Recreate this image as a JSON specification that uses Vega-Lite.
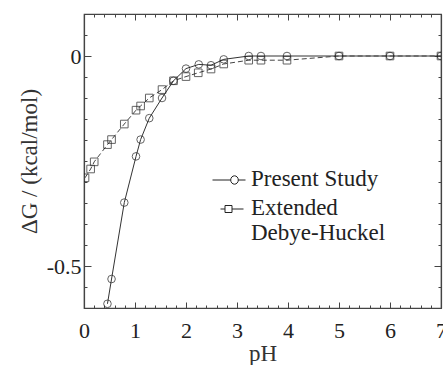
{
  "$schema": "https://vega.github.io/schema/vega-lite/v6.json",
  "width": 357,
  "height": 294,
  "autosize": {"type": "none"},
  "padding": {"left": 84, "top": 14, "right": 2, "bottom": 57},
  "background": "white",
  "config": {
    "font": "Liberation Serif",
    "view": {"stroke": "#444", "strokeWidth": 1.2},
    "axis": {
      "grid": false,
      "labelFont": "Liberation Serif",
      "titleFont": "Liberation Serif",
      "labelFontSize": 22,
      "titleFontSize": 23,
      "titleFontWeight": "normal",
      "labelColor": "#222",
      "titleColor": "#333",
      "tickColor": "#444",
      "domainColor": "#444",
      "domainWidth": 1.2
    },
    "legend": {"labelFont": "Liberation Serif"}
  },
  "data": {
    "values": [
      {"series": "Present Study", "pH": 0.46, "dG": -0.590},
      {"series": "Present Study", "pH": 0.54, "dG": -0.531},
      {"series": "Present Study", "pH": 0.79, "dG": -0.349},
      {"series": "Present Study", "pH": 1.02, "dG": -0.239},
      {"series": "Present Study", "pH": 1.11, "dG": -0.199},
      {"series": "Present Study", "pH": 1.28, "dG": -0.148},
      {"series": "Present Study", "pH": 1.53, "dG": -0.100},
      {"series": "Present Study", "pH": 1.755, "dG": -0.059},
      {"series": "Present Study", "pH": 2.0, "dG": -0.030},
      {"series": "Present Study", "pH": 2.25, "dG": -0.020},
      {"series": "Present Study", "pH": 2.49, "dG": -0.022},
      {"series": "Present Study", "pH": 2.74, "dG": -0.008},
      {"series": "Present Study", "pH": 3.23, "dG": 0.0},
      {"series": "Present Study", "pH": 3.47, "dG": 0.0},
      {"series": "Present Study", "pH": 3.98, "dG": 0.0},
      {"series": "Present Study", "pH": 5.0, "dG": 0.0},
      {"series": "Present Study", "pH": 6.0, "dG": 0.0},
      {"series": "Present Study", "pH": 7.0, "dG": 0.0},
      {"series": "Extended Debye-Huckel", "pH": 0.02, "dG": -0.290},
      {"series": "Extended Debye-Huckel", "pH": 0.13, "dG": -0.269},
      {"series": "Extended Debye-Huckel", "pH": 0.20, "dG": -0.252},
      {"series": "Extended Debye-Huckel", "pH": 0.46, "dG": -0.211},
      {"series": "Extended Debye-Huckel", "pH": 0.54, "dG": -0.199},
      {"series": "Extended Debye-Huckel", "pH": 0.79, "dG": -0.162},
      {"series": "Extended Debye-Huckel", "pH": 1.02, "dG": -0.129},
      {"series": "Extended Debye-Huckel", "pH": 1.11, "dG": -0.119},
      {"series": "Extended Debye-Huckel", "pH": 1.28, "dG": -0.100},
      {"series": "Extended Debye-Huckel", "pH": 1.53, "dG": -0.080},
      {"series": "Extended Debye-Huckel", "pH": 1.755, "dG": -0.059},
      {"series": "Extended Debye-Huckel", "pH": 2.0, "dG": -0.049},
      {"series": "Extended Debye-Huckel", "pH": 2.24, "dG": -0.040},
      {"series": "Extended Debye-Huckel", "pH": 2.49, "dG": -0.031},
      {"series": "Extended Debye-Huckel", "pH": 2.74, "dG": -0.019},
      {"series": "Extended Debye-Huckel", "pH": 3.23, "dG": -0.010},
      {"series": "Extended Debye-Huckel", "pH": 3.47, "dG": -0.010},
      {"series": "Extended Debye-Huckel", "pH": 3.98, "dG": -0.010},
      {"series": "Extended Debye-Huckel", "pH": 5.0, "dG": 0.0},
      {"series": "Extended Debye-Huckel", "pH": 6.0, "dG": 0.0},
      {"series": "Extended Debye-Huckel", "pH": 7.0, "dG": 0.0}
    ]
  },
  "layer": [
    {
      "transform": [{"filter": "datum.series == 'Present Study'"}],
      "mark": {"type": "line", "color": "#333", "strokeWidth": 1, "clip": true},
      "encoding": {
        "x": {"field": "pH", "type": "quantitative", "scale": {"domain": [0, 7], "nice": false},
          "axis": {"orient": "bottom", "values": [0, 1, 2, 3, 4, 5, 6, 7], "tickSize": -6, "labelPadding": 18, "title": "pH", "titlePadding": 1, "labelFlush": false, "labelOverlap": false}},
        "y": {"field": "dG", "type": "quantitative", "scale": {"domain": [-0.6, 0.1], "nice": false, "zero": false},
          "axis": {"orient": "left", "values": [0, -0.5], "tickSize": -7, "labelPadding": 10, "labelExpr": "datum.value + ''", "title": "ΔG / (kcal/mol)", "titlePadding": 5}}
      }
    },
    {
      "transform": [{"filter": "datum.series == 'Extended Debye-Huckel'"}],
      "mark": {"type": "line", "color": "#444", "strokeWidth": 1, "strokeDash": [5, 3], "clip": true},
      "encoding": {
        "x": {"field": "pH", "type": "quantitative", "scale": {"domain": [0, 7], "nice": false},
          "axis": {"orient": "bottom", "values": [0.2, 0.4, 0.6, 0.8, 1.2, 1.4, 1.6, 1.8, 2.2, 2.4, 2.6, 2.8, 3.2, 3.4, 3.6, 3.8, 4.2, 4.4, 4.6, 4.8, 5.2, 5.4, 5.6, 5.8, 6.2, 6.4, 6.6, 6.8], "tickSize": -3, "labels": false, "domain": false, "title": null}},
        "y": {"field": "dG", "type": "quantitative", "scale": {"domain": [-0.6, 0.1], "nice": false, "zero": false},
          "axis": {"orient": "left", "values": [0.05, -0.05, -0.1, -0.15, -0.2, -0.25, -0.3, -0.35, -0.4, -0.45, -0.55], "tickSize": -3, "labels": false, "domain": false, "title": null}}
      }
    },
    {
      "mark": {"type": "point", "filled": false, "color": "#222", "strokeWidth": 1, "size": 58, "clip": true},
      "encoding": {
        "x": {"field": "pH", "type": "quantitative", "scale": {"domain": [0, 7], "nice": false},
          "axis": {"orient": "top", "values": [0, 1, 2, 3, 4, 5, 6, 7], "tickSize": -6, "labels": false, "title": null}},
        "y": {"field": "dG", "type": "quantitative", "scale": {"domain": [-0.6, 0.1], "nice": false, "zero": false},
          "axis": {"orient": "right", "values": [0, -0.5], "tickSize": -7, "labels": false, "title": null}},
        "shape": {"field": "series", "type": "nominal",
          "scale": {"domain": ["Present Study", "Extended Debye-Huckel"], "range": ["circle", "square"]},
          "legend": null}
      }
    },
    {
      "transform": [{"filter": "datum.pH < -100"}],
      "mark": {"type": "point", "filled": false, "color": "#222", "strokeWidth": 1},
      "encoding": {
        "x": {"field": "pH", "type": "quantitative", "scale": {"domain": [0, 7], "nice": false},
          "axis": {"orient": "top", "values": [0.2, 0.4, 0.6, 0.8, 1.2, 1.4, 1.6, 1.8, 2.2, 2.4, 2.6, 2.8, 3.2, 3.4, 3.6, 3.8, 4.2, 4.4, 4.6, 4.8, 5.2, 5.4, 5.6, 5.8, 6.2, 6.4, 6.6, 6.8], "tickSize": -3, "labels": false, "domain": false, "title": null}},
        "y": {"field": "dG", "type": "quantitative", "scale": {"domain": [-0.6, 0.1], "nice": false, "zero": false},
          "axis": {"orient": "right", "values": [0.05, -0.05, -0.1, -0.15, -0.2, -0.25, -0.3, -0.35, -0.4, -0.45, -0.55], "tickSize": -3, "labels": false, "domain": false, "title": null}},
        "shape": {"field": "series", "type": "nominal",
          "scale": {"domain": ["Present Study", "Extended Debye-Huckel"],
            "range": ["M-3.4,-1.1H0.24M1.76,-1.1H3.2M0.24,-1.1A0.76,0.84 0 1,0 1.76,-1.1A0.76,0.84 0 1,0 0.24,-1.1", "M-1.8,-1.1H-0.9M0.5,-1.1H2.8M-0.9,-1.8H0.5V-0.4H-0.9Z"]},
          "legend": {
            "orient": "none", "legendX": 134, "legendY": 160, "title": null, "padding": 0,
            "symbolSize": 100, "symbolStrokeColor": "#222", "symbolFillColor": "transparent", "symbolStrokeWidth": 1, "symbolOpacity": 1,
            "labelFontSize": 23, "labelColor": "#222", "labelOffset": 10, "labelLimit": 300, "labelBaseline": "alphabetic",
            "rowPadding": 5,
            "labelExpr": "datum.label == 'Extended Debye-Huckel' ? ['Extended', 'Debye-Huckel'] : datum.label",
            "encode": {"labels": {"update": {"lineHeight": {"value": 28}}}}
          }}
      }
    }
  ],
  "resolve": {
    "axis": {"x": "independent", "y": "independent"},
    "scale": {"shape": "independent"}
  }
}
